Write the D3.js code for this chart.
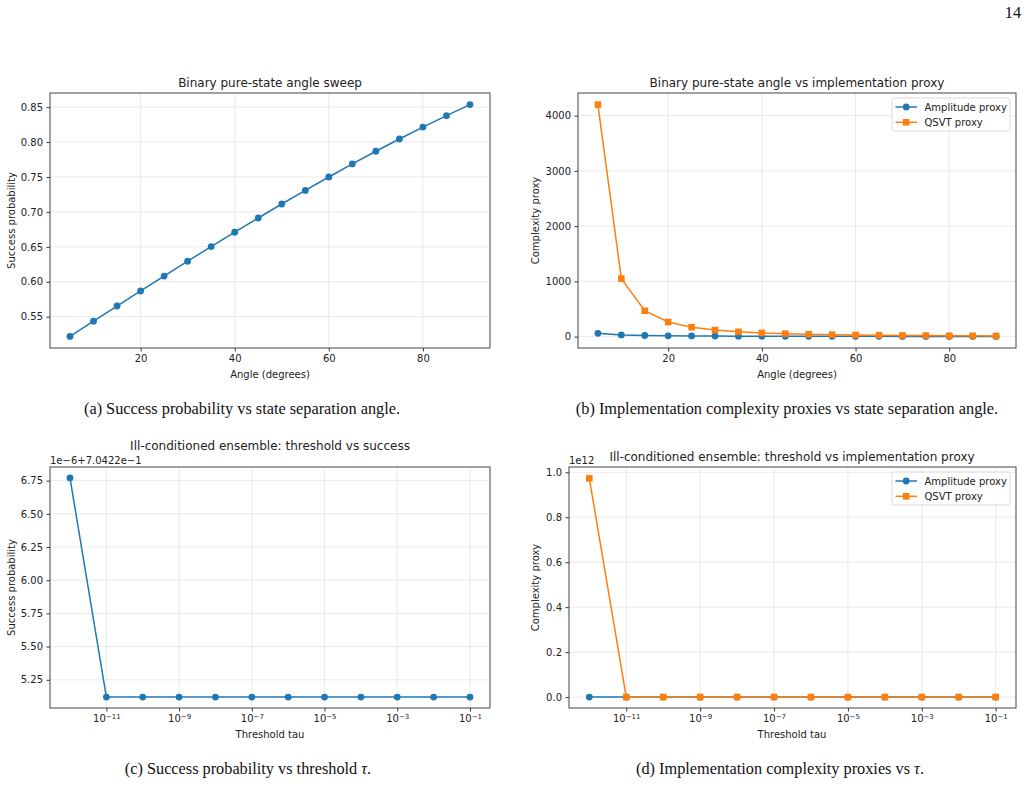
<html>
<head>
<script src="https://d3js.org/d3.v7.min.js"></script>
<style>
  body { margin: 0; background: #fff; }
  .tick text { font-family: "DejaVu Sans", sans-serif; font-size: 10px; fill: #222; }
  .tick line { stroke: #333; }
  .domain { display: none; }
  .ttl { font-family: "DejaVu Sans", sans-serif; font-size: 12px; fill: #222; }
  .lbl { font-family: "DejaVu Sans", sans-serif; font-size: 10px; fill: #222; }
  .cap { font-family: "Liberation Serif", "Times New Roman", serif; font-size: 16.3px; fill: #111; }
</style>
</head>
<body>
<div id="fig"></div>
<script>
// data
const angles = [5,10,15,20,25,30,35,40,45,50,55,60,65,70,75,80,85,90];
const successAngle = [0.5218,0.5436,0.5653,0.5868,0.6082,0.6294,0.6504,0.6710,0.6913,0.7113,0.7308,0.7500,0.7687,0.7868,0.8044,0.8214,0.8378,0.8536];
const amplitudeAngle = [60,30,20,15,12,10,8.6,7.5,6.7,6,5.5,5,4.6,4.3,4,3.8,3.5,3.3];
const qsvtAngle = [4200,1050,468,264,170,118,87,67,53,43,36,30,26,22,19,17,15,13];

const taus = [1e-12,1e-11,1e-10,1e-9,1e-8,1e-7,1e-6,1e-5,1e-4,1e-3,1e-2,1e-1];
const successTau = [0.70422677,0.70422512,0.70422512,0.70422512,0.70422512,0.70422512,0.70422512,0.70422512,0.70422512,0.70422512,0.70422512,0.70422512];
const amplitudeTau = [0,0,0,0,0,0,0,0,0,0,0,0];
const qsvtTau = [0.973e12,0,0,0,0,0,0,0,0,0,0,0];

const angleTicks = [20,40,60,80];
const successTicks = [0.55,0.60,0.65,0.70,0.75,0.80,0.85];
const proxyTicks = [0,1000,2000,3000,4000];
const tauTicks = [1e-11,1e-9,1e-7,1e-5,1e-3,1e-1];
const tauSuccessTicks = [5.25,5.50,5.75,6.00,6.25,6.50,6.75];
const tauProxyTicks = [0,0.2,0.4,0.6,0.8,1.0];

const blue = '#1f77b4', orange = '#ff7f0e';

const svg = d3.select('#fig').append('svg').attr('width',1031).attr('height',788);
svg.append('rect').attr('width',1031).attr('height',788).attr('fill','#fff');

svg.append('text').attr('class','cap').attr('x',1013).attr('y',18).attr('text-anchor','middle').text('14');

function logLabel(sel){
  sel.selectAll('.tick text').each(function(d){
    const t = d3.select(this);
    const e = Math.round(Math.log10(d));
    t.text('');
    t.append('tspan').text('10');
    t.append('tspan').attr('dy','-0.45em').style('font-size','7px').text('\u2212' + Math.abs(e));
  });
}

function panel(p){
  const g = svg.append('g');
  const x = p.log
    ? d3.scaleLog().domain(p.xdom).range([p.x0,p.x1])
    : d3.scaleLinear().domain(p.xdom).range([p.x0,p.x1]);
  const y = d3.scaleLinear().domain(p.ydom).range([p.y1,p.y0]);

  // grid
  g.selectAll('.gx').data(p.xticks).enter().append('line')
    .attr('x1',d=>x(d)).attr('x2',d=>x(d)).attr('y1',p.y0).attr('y2',p.y1)
    .attr('stroke','#e4e4e4').attr('stroke-width',0.8);
  g.selectAll('.gy').data(p.yticks).enter().append('line')
    .attr('y1',d=>y(d)).attr('y2',d=>y(d)).attr('x1',p.x0).attr('x2',p.x1)
    .attr('stroke','#e4e4e4').attr('stroke-width',0.8);

  const xa = g.append('g').attr('transform','translate(0,'+p.y1+')')
    .call(d3.axisBottom(x).tickValues(p.xticks).tickSize(3.5).tickPadding(3.5).tickFormat(p.xfmt || d3.format('d')));
  if (p.log) logLabel(xa);
  g.append('g').attr('transform','translate('+p.x0+',0)')
    .call(d3.axisLeft(y).tickValues(p.yticks).tickSize(3.5).tickPadding(3.5).tickFormat(p.yfmt));

  // series
  p.series.forEach(s=>{
    const pts = p.xs.map((v,i)=>[v, s.vals[i]]);
    g.append('path').datum(pts)
      .attr('d', d3.line().x(d=>x(d[0])).y(d=>y(s.tf ? s.tf(d[1]) : d[1])))
      .attr('fill','none').attr('stroke',s.color).attr('stroke-width',1.5);
    if (s.square) {
      g.selectAll(null).data(pts).enter().append('rect')
        .attr('x',d=>x(d[0])-3.3).attr('y',d=>y(s.tf ? s.tf(d[1]) : d[1])-3.3)
        .attr('width',6.6).attr('height',6.6).attr('fill',s.color);
    } else {
      g.selectAll(null).data(pts).enter().append('circle')
        .attr('cx',d=>x(d[0])).attr('cy',d=>y(s.tf ? s.tf(d[1]) : d[1]))
        .attr('r',3.4).attr('fill',s.color);
    }
  });

  // frame
  g.append('rect').attr('x',p.x0).attr('y',p.y0).attr('width',p.x1-p.x0).attr('height',p.y1-p.y0)
    .attr('fill','none').attr('stroke','#444').attr('stroke-width',1);

  g.append('text').attr('class','ttl').attr('x',p.tx).attr('y',p.ty).attr('text-anchor','middle').text(p.title);
  g.append('text').attr('class','lbl').attr('x',p.xlx).attr('y',p.y1+30).attr('text-anchor','middle').text(p.xlabel);
  g.append('text').attr('class','lbl').attr('text-anchor','middle')
    .attr('transform','translate('+p.ylx+','+((p.y0+p.y1)/2)+') rotate(-90)').text(p.ylabel);
  if (p.offset) g.append('text').attr('class','lbl').attr('x',p.x0).attr('y',p.y0-3).text(p.offset);

  if (p.legend) {
    const L = g.append('g').attr('transform','translate('+(p.x1-124)+','+(p.y0+5)+')');
    L.append('rect').attr('width',118).attr('height',33).attr('rx',2.5)
      .attr('fill','#fff').attr('fill-opacity',0.8).attr('stroke','#d0d0d0').attr('stroke-width',0.8);
    p.series.forEach((s,i)=>{
      const yy = 9 + i*15.3;
      L.append('line').attr('x1',3.5).attr('x2',25).attr('y1',yy).attr('y2',yy).attr('stroke',s.color).attr('stroke-width',1.5);
      if (s.square) L.append('rect').attr('x',14.2-3.3).attr('y',yy-3.3).attr('width',6.6).attr('height',6.6).attr('fill',s.color);
      else L.append('circle').attr('cx',14.2).attr('cy',yy).attr('r',3.4).attr('fill',s.color);
      L.append('text').attr('class','lbl').attr('x',32.5).attr('y',yy+3.6).text(s.name);
    });
  }
}

const f2 = d3.format('.2f'), f1 = d3.format('.1f');

panel({x0:50,x1:490,y0:93,y1:348, xdom:[0.75,94.25], ydom:[0.5052,0.8702],
  xs:angles, xticks:angleTicks, yticks:successTicks, yfmt:f2,
  title:'Binary pure-state angle sweep', tx:270, ty:87,
  xlabel:'Angle (degrees)', xlx:270, ylabel:'Success probability', ylx:15,
  series:[{vals:successAngle,color:blue}]});

panel({x0:578,x1:1016,y0:93,y1:348, xdom:[0.75,94.25], ydom:[-206,4410],
  xs:angles, xticks:angleTicks, yticks:proxyTicks, yfmt:d3.format('d'),
  title:'Binary pure-state angle vs implementation proxy', tx:797, ty:87,
  xlabel:'Angle (degrees)', xlx:797, ylabel:'Complexity proxy', ylx:539, legend:true,
  series:[{vals:amplitudeAngle,color:blue,name:'Amplitude proxy'},
          {vals:qsvtAngle,color:orange,square:true,name:'QSVT proxy'}]});

panel({x0:50,x1:490,y0:467,y1:708, log:true, xdom:[Math.pow(10,-12.55),Math.pow(10,-0.45)], ydom:[5.0375,6.8525],
  xs:taus, xticks:tauTicks, yticks:tauSuccessTicks, yfmt:f2,
  title:'Ill-conditioned ensemble: threshold vs success', tx:270, ty:450,
  xlabel:'Threshold tau', xlx:270, ylabel:'Success probability', ylx:15,
  offset:'1e\u22126+7.0422e\u22121',
  series:[{vals:successTau,color:blue,tf:v=>(v-0.70422)*1e6}]});

panel({x0:569,x1:1016,y0:467,y1:708, log:true, xdom:[Math.pow(10,-12.55),Math.pow(10,-0.45)], ydom:[-0.0487,1.0235],
  xs:taus, xticks:tauTicks, yticks:tauProxyTicks, yfmt:f1,
  title:'Ill-conditioned ensemble: threshold vs implementation proxy', tx:792, ty:461,
  xlabel:'Threshold tau', xlx:792, ylabel:'Complexity proxy', ylx:539, legend:true,
  offset:'1e12',
  series:[{vals:amplitudeTau,color:blue,name:'Amplitude proxy',tf:v=>v/1e12},
          {vals:qsvtTau,color:orange,square:true,name:'QSVT proxy',tf:v=>v/1e12}]});

svg.append('text').attr('class','cap').attr('x',242).attr('y',414).attr('text-anchor','middle').text('(a) Success probability vs state separation angle.');
svg.append('text').attr('class','cap').attr('x',787).attr('y',414).attr('text-anchor','middle').text('(b) Implementation complexity proxies vs state separation angle.');
const cc = svg.append('text').attr('class','cap').attr('x',248).attr('y',774).attr('text-anchor','middle');
cc.append('tspan').text('(c) Success probability vs threshold ');
cc.append('tspan').style('font-style','italic').text('\u03c4');
cc.append('tspan').text('.');
const cd = svg.append('text').attr('class','cap').attr('x',780).attr('y',774).attr('text-anchor','middle');
cd.append('tspan').text('(d) Implementation complexity proxies vs ');
cd.append('tspan').style('font-style','italic').text('\u03c4');
cd.append('tspan').text('.');
</script>
</body>
</html>
